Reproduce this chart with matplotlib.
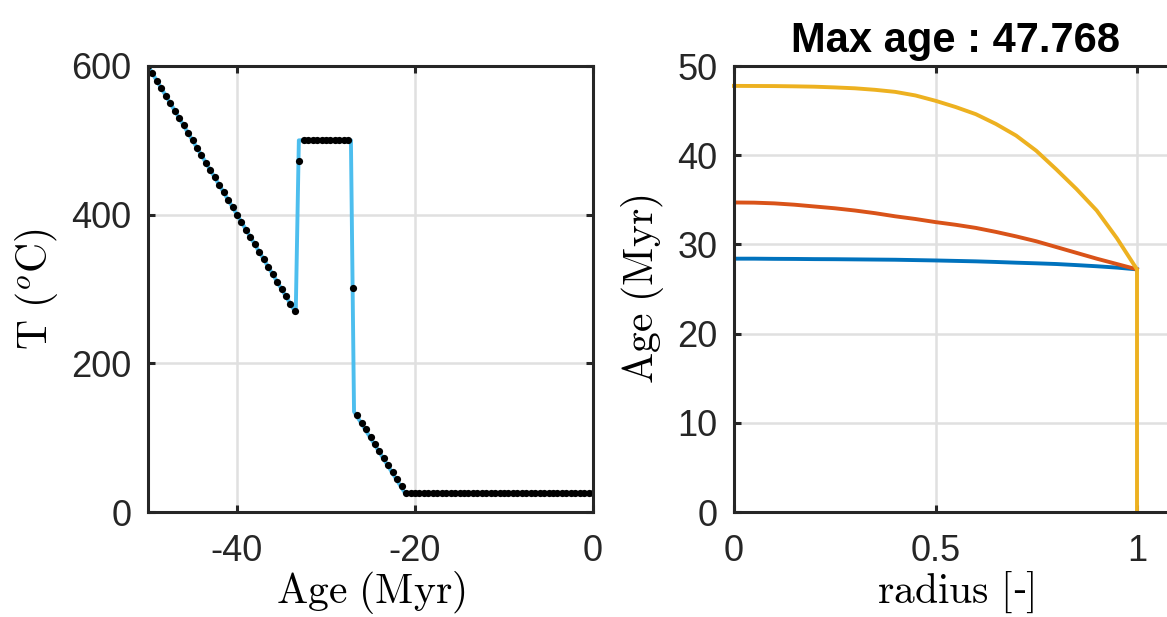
import matplotlib
matplotlib.use("Agg")
import matplotlib.pyplot as plt

# historia termica (nodos de la linea)
path_age = [-50, -33.4, -33.05, -27.2, -26.85, -21.1, 0]
path_T = [600, 268, 500, 500, 135, 25, 25]

# puntos muestreados
dot_age = [-50.0, -49.5, -49.0, -48.5, -48.0, -47.5, -47.0, -46.5, -46.0, -45.5,
           -45.0, -44.5, -44.0, -43.5, -43.0, -42.5, -42.0, -41.5, -41.0, -40.5,
           -40.0, -39.5, -39.0, -38.5, -38.0, -37.5, -37.0, -36.5, -36.0, -35.5,
           -35.0, -34.5, -34.0, -33.5, -33.0, -32.5, -32.0, -31.5, -31.0, -30.5,
           -30.0, -29.5, -29.0, -28.5, -28.0, -27.5, -27.0, -26.5, -26.0, -25.5,
           -25.0, -24.5, -24.0, -23.5, -23.0, -22.5, -22.0, -21.5, -21.0, -20.5,
           -20.0, -19.5, -19.0, -18.5, -18.0, -17.5, -17.0, -16.5, -16.0, -15.5,
           -15.0, -14.5, -14.0, -13.5, -13.0, -12.5, -12.0, -11.5, -11.0, -10.5,
           -10.0, -9.5, -9.0, -8.5, -8.0, -7.5, -7.0, -6.5, -6.0, -5.5,
           -5.0, -4.5, -4.0, -3.5, -3.0, -2.5, -2.0, -1.5, -1.0, -0.5, 0.0]
dot_T = [600, 590, 580, 570, 560, 550, 540, 530, 520, 510,
         500, 490, 480, 470, 460, 450, 440, 430, 420, 410,
         400, 390, 380, 370, 360, 350, 340, 330, 320, 310,
         300, 290, 280, 270, 472, 500, 500, 500, 500, 500,
         500, 500, 500, 500, 500, 500, 302, 130, 120, 111,
         101, 92, 82, 73, 63, 54, 44, 35] + [25] * 43

# edades vs radio
radius = [0, 0.05, 0.1, 0.15, 0.2, 0.25, 0.3, 0.35, 0.4, 0.45, 0.5,
          0.55, 0.6, 0.65, 0.7, 0.75, 0.8, 0.85, 0.9, 0.95, 1.0]
age_blue = [28.4, 28.4, 28.38, 28.37, 28.35, 28.34, 28.32, 28.3, 28.28, 28.24, 28.2,
            28.15, 28.1, 28.03, 27.95, 27.88, 27.8, 27.68, 27.55, 27.4, 27.2]
age_red = [34.7, 34.68, 34.6, 34.45, 34.25, 34.05, 33.8, 33.5, 33.15, 32.85, 32.5,
           32.2, 31.85, 31.4, 30.9, 30.35, 29.7, 29.05, 28.4, 27.8, 27.2]
age_yel = [47.77, 47.76, 47.75, 47.72, 47.68, 47.6, 47.5, 47.33, 47.1, 46.7, 46.1,
           45.4, 44.6, 43.5, 42.2, 40.5, 38.4, 36.2, 33.8, 30.7, 27.2]
yel_tail_r = [1.0]
yel_tail_a = [0]

plt.rcParams['mathtext.fontset'] = 'cm'
plt.rcParams['font.family'] = 'Liberation Sans'
plt.rcParams['axes.unicode_minus'] = False

fig = plt.figure(figsize=(11.67, 6.17), dpi=100)
ax1 = fig.add_axes([148/1167, 1 - 512/617, 445/1167, 446/617])
ax2 = fig.add_axes([734/1167, 1 - 512/617, 443.3/1167, 446/617])

spine_c = '#262626'
grid_c = '#e0e0e0'
lab_fs = 30

ax1.plot(path_age, path_T, color='#4DBEEE', lw=2.8, zorder=3)
ax1.plot(dot_age, dot_T, 'o', color='k', ms=5.2, mew=0, zorder=4)
ax1.set_xlim(-50, 0)
ax1.set_ylim(0, 600)
ax1.set_xticks([-40, -20, 0])
ax1.set_yticks([0, 200, 400, 600])
ax1.set_xlabel(r'$\mathrm{Age\ (Myr)}$', fontsize=lab_fs, labelpad=0)
ax1.set_ylabel(r'$\mathrm{T\ (}^o\mathrm{C)}$', fontsize=lab_fs, labelpad=8)

ax2.plot(radius, age_blue, color='#0072BD', lw=2.8)
ax2.plot(radius, age_red, color='#D95319', lw=2.8)
ax2.plot(radius + yel_tail_r, age_yel + yel_tail_a, color='#EDB120', lw=2.8,
         clip_on=False, zorder=3)
ax2.set_xlim(0, 1.1)
ax2.set_ylim(0, 50)
ax2.set_xticks([0, 0.5, 1])
ax2.set_xticklabels(['0', '0.5', '1'])
ax2.set_yticks([0, 10, 20, 30, 40, 50])
ax2.set_xlabel(r'$\mathrm{radius\ [}$-$\mathrm{]}$', fontsize=lab_fs, labelpad=0)
ax2.set_ylabel(r'$\mathrm{Age\ (Myr)}$', fontsize=lab_fs, labelpad=8)
ax2.set_title('Max age : 47.768', fontsize=30, fontweight='bold', pad=10)

for ax in (ax1, ax2):
    ax.grid(True, color=grid_c, lw=1.8)
    ax.set_axisbelow(True)
    for s in ax.spines.values():
        s.set_color(spine_c)
        s.set_linewidth(2.2)
        s.set_zorder(5)
    ax.tick_params(direction='in', length=5, width=2.2, color=spine_c,
                   labelsize=26, labelcolor='#262626', top=True, right=True)
    ax.tick_params(axis='x', pad=16)
    ax.tick_params(axis='y', pad=12)

fig.savefig('out.png', dpi=100)
